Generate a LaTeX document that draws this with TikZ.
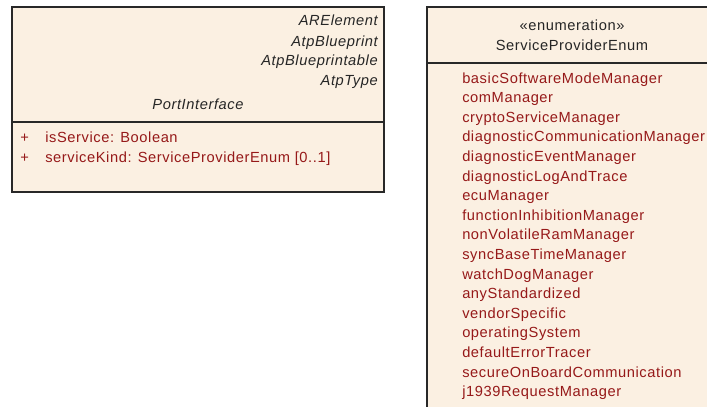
\documentclass[tikz,border=0pt]{standalone}
\usepackage{fontspec}
\setmainfont[LetterSpace=4]{Liberation Sans}
\definecolor{boxfill}{RGB}{251,240,226}
\definecolor{attrred}{RGB}{150,25,25}
\definecolor{edge}{RGB}{40,40,40}
\begin{document}
\begin{tikzpicture}[x=0.75pt,y=-0.75pt,
  umlbox/.style={draw=edge,line width=1pt,fill=boxfill},
  hdr/.style={inner sep=0pt,font=\fontsize{11}{13}\selectfont,text=black!85},
  hdrit/.style={hdr,font=\fontsize{11}{13}\selectfont\itshape},
  attr/.style={inner sep=0pt,anchor=base west,font=\fontsize{11}{13}\selectfont,text=attrred}]
\useasboundingbox (0,0) rectangle (707,407);
\clip (0,0) rectangle (707,407);
% left class
\draw[umlbox] (12,7) rectangle (384,192);
\draw[edge,line width=0.8pt] (12,122) -- (384,122);
\node[hdrit,anchor=base east] (ar) at (378,26) {ARElement};
\node[hdrit,anchor=base east] (bp) at (378,46) {AtpBlueprint};
\node[hdrit,anchor=base east] (bpa) at (378,65) {AtpBlueprintable};
\node[hdrit,anchor=base east] (at) at (378,85) {AtpType};
\node[hdrit,anchor=base] (pi) at (198,109) {PortInterface};
\node[attr] (p1) at (20,142) {+};
\node[attr] (a1) at (45,142) {isService: Boolean};
\node[attr] (p2) at (20,162) {+};
\node[attr] (a2) at (45,162) {serviceKind: ServiceProviderEnum [0..1]};
% right enumeration
\draw[umlbox] (427,7) rectangle (717,420);
\draw[edge,line width=0.8pt] (427,63) -- (717,63);
\node[hdr,anchor=base] (st) at (572,30) {«enumeration»};
\node[hdr,anchor=base] (en) at (572,50) {ServiceProviderEnum};
\foreach \t [count=\i from 0] in {basicSoftwareModeManager,comManager,cryptoServiceManager,diagnosticCommunicationManager,diagnosticEventManager,diagnosticLogAndTrace,ecuManager,functionInhibitionManager,nonVolatileRamManager,syncBaseTimeManager,watchDogManager,anyStandardized,vendorSpecific,operatingSystem,defaultErrorTracer,secureOnBoardCommunication,j1939RequestManager}{
  \node[attr] (e\i) at (462,{83+19.6*\i}) {\t};
}
\end{tikzpicture}
\end{document}
